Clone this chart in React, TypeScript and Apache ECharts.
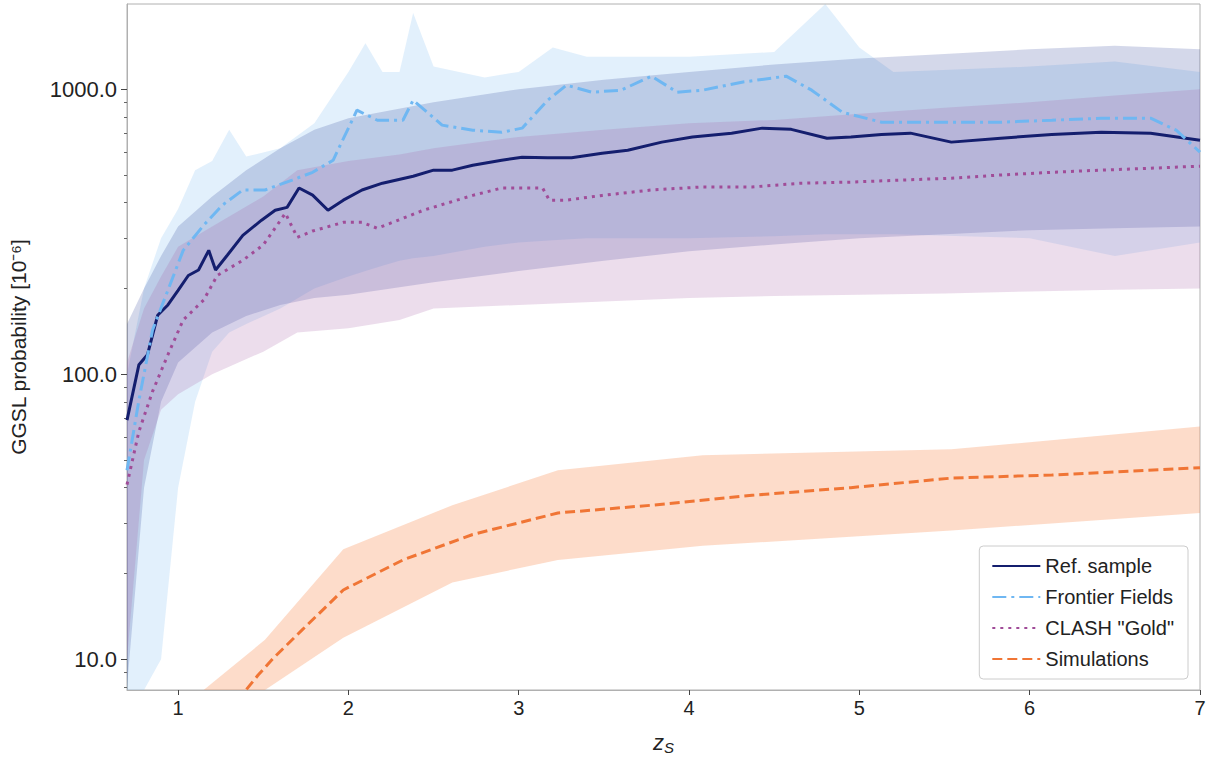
import { useEffect, useRef } from 'react';
import * as echarts from 'echarts';

// Ref. sample
const refZ = [0.7, 0.77, 0.82, 0.88, 0.94, 1.0, 1.06, 1.12, 1.18, 1.22, 1.29, 1.38, 1.49, 1.57, 1.64, 1.71, 1.79, 1.88, 1.97, 2.08, 2.2, 2.38, 2.5, 2.61, 2.73, 2.9, 3.02, 3.17, 3.31, 3.49, 3.64, 3.84, 4.02, 4.25, 4.43, 4.6, 4.81, 4.95, 5.13, 5.3, 5.54, 5.83, 6.13, 6.42, 6.71, 7.0];
const refMid = [69, 108, 117, 161, 175, 197, 222, 232, 272, 232, 262, 307, 347, 376, 385, 450, 425, 376, 408, 443, 468, 495, 520, 520, 541, 563, 577, 575, 575, 596, 611, 652, 680, 701, 730, 723, 673, 680, 693, 701, 652, 673, 693, 706, 701, 662];
const refBandZ = [0.7, 0.8, 0.9, 1.0, 1.2, 1.4, 1.6, 1.8, 2.0, 2.5, 3.0, 3.5, 4.0, 4.5, 5.0, 5.5, 6.0, 6.5, 7.0];
const refHi = [150, 200, 260, 330, 420, 520, 620, 720, 790, 900, 1000, 1080, 1150, 1220, 1280, 1330, 1380, 1420, 1380];
const refLo = [8, 40, 80, 110, 140, 160, 175, 185, 190, 210, 230, 250, 270, 285, 300, 310, 320, 325, 330];

// Frontier Fields
const ffZ = [0.7, 0.77, 0.85, 0.94, 1.03, 1.15, 1.26, 1.38, 1.51, 1.67, 1.79, 1.91, 2.05, 2.17, 2.32, 2.38, 2.55, 2.73, 2.9, 3.02, 3.17, 3.28, 3.43, 3.6, 3.78, 3.93, 4.08, 4.31, 4.57, 4.72, 4.9, 5.13, 5.54, 5.83, 6.13, 6.42, 6.71, 6.86, 7.0];
const ffMid = [46, 81, 143, 197, 272, 333, 392, 443, 443, 480, 511, 563, 844, 778, 778, 915, 748, 718, 706, 730, 915, 1033, 976, 992, 1111, 976, 992, 1058, 1111, 992, 830, 766, 766, 766, 778, 791, 791, 718, 601];
const ffBandZ = [0.7, 0.8, 0.9, 1.0, 1.1, 1.2, 1.3, 1.4, 1.6, 1.8, 2.0, 2.1, 2.2, 2.3, 2.38, 2.5, 2.8, 3.0, 3.2, 3.4, 3.6, 4.0, 4.5, 4.8, 5.0, 5.2, 6.0, 6.5, 7.0];
const ffHi = [100, 200, 300, 380, 520, 560, 720, 580, 620, 760, 1150, 1450, 1150, 1150, 1850, 1200, 1100, 1150, 1400, 1300, 1300, 1300, 1350, 2000, 1400, 1150, 1200, 1250, 1150];
const ffLo = [3, 5, 10, 40, 80, 120, 140, 150, 170, 200, 220, 230, 240, 250, 255, 260, 280, 290, 295, 300, 300, 300, 305, 310, 310, 310, 300, 260, 290];

// CLASH "Gold"
const clZ = [0.7, 0.77, 0.85, 0.94, 1.03, 1.15, 1.23, 1.38, 1.5, 1.63, 1.7, 1.79, 1.97, 2.08, 2.17, 2.44, 2.73, 2.9, 3.14, 3.18, 3.28, 3.49, 3.78, 4.08, 4.37, 4.66, 4.95, 5.25, 5.54, 5.83, 6.13, 6.42, 6.71, 7.0];
const clMid = [41, 63, 87, 117, 155, 182, 222, 251, 284, 367, 302, 318, 341, 341, 325, 376, 424, 450, 450, 408, 408, 424, 443, 454, 454, 468, 472, 480, 487, 500, 511, 520, 528, 537];
const clBandZ = [0.7, 0.8, 0.9, 1.0, 1.2, 1.5, 1.7, 2.0, 2.3, 2.5, 3.0, 3.5, 4.0, 4.5, 5.0, 5.5, 6.0, 6.5, 7.0];
const clHi = [110, 170, 220, 280, 330, 420, 520, 560, 590, 620, 680, 720, 760, 780, 820, 860, 900, 950, 1000];
const clLo = [10, 50, 75, 85, 100, 120, 140, 145, 155, 170, 175, 180, 185, 188, 190, 192, 195, 198, 200];

// Simulations
const simZ = [1.29, 1.47, 1.56, 1.73, 1.97, 2.32, 2.73, 3.23, 3.78, 4.37, 4.95, 5.54, 6.13, 7.0];
const simMid = [6.5, 8.8, 10.1, 12.7, 17.5, 22.3, 27.4, 32.6, 34.7, 37.6, 40, 43.2, 44.3, 47];
const simBandZ = [1.15, 1.51, 1.97, 2.61, 3.23, 4.08, 5.54, 7.0];
const simHi = [7.8, 11.7, 24.3, 34.7, 46, 52, 54.5, 65.6];
const simLo = [5, 6.5, 11.9, 18.6, 22.3, 25, 28.3, 32.6];

const yMin = Math.log10(7.8);
const yMax = Math.log10(1990);
const xTicks = [1, 2, 3, 4, 5, 6, 7];
const yTicks = [10, 100, 1000];
const yMinor = [8, 9, 20, 30, 40, 50, 60, 70, 80, 90, 200, 300, 400, 500, 600, 700, 800, 900];

const FONT = 'Liberation Sans, Arial, sans-serif';
const lg = (v: number) => Math.log10(v);
const clampY = (v: number) => Math.min(yMax, Math.max(yMin, lg(v)));

function band(name: string, z: number[], lo: number[], hi: number[], color: string) {
  return {
    type: 'custom',
    name,
    silent: true,
    clip: true,
    data: [[z[0], clampY(lo[0])]],
    z: 1,
    renderItem: (_p: unknown, api: any) => {
      const pts: number[][] = [];
      z.forEach((x, i) => pts.push(api.coord([x, clampY(hi[i])])));
      for (let i = z.length - 1; i >= 0; i--) pts.push(api.coord([z[i], clampY(lo[i])]));
      return { type: 'polygon', shape: { points: pts }, style: { fill: color } };
    },
  };
}

function line(name: string, z: number[], v: number[], color: string, type: any, width: number) {
  return {
    type: 'line',
    name,
    data: z.map((x, i) => [x, lg(v[i])]),
    symbol: 'none',
    z: 5,
    lineStyle: { color, width, type },
    itemStyle: { color },
  };
}

export default function App() {
  const ref = useRef<HTMLDivElement | null>(null);

  useEffect(() => {
    document.body.style.margin = '0';
    const chart = echarts.init(ref.current!, undefined, { renderer: 'svg' });
    chart.setOption({
      animation: false,
      grid: { left: 122, right: 15, top: 4, bottom: 73, show: true, borderColor: '#b0b0b0', borderWidth: 1 },
      legend: {
        right: 27,
        bottom: 84,
        orient: 'vertical',
        data: ['Ref. sample', 'Frontier Fields', 'CLASH "Gold"', 'Simulations'],
        itemWidth: 48,
        itemHeight: 14,
        itemGap: 11,
        itemStyle: { opacity: 0 },
        padding: [10, 14, 10, 12],
        borderColor: '#cccccc',
        borderWidth: 1,
        borderRadius: 4,
        backgroundColor: 'rgba(255,255,255,0.85)',
        textStyle: { fontFamily: FONT, fontSize: 20, color: '#222' },
      },
      xAxis: {
        type: 'value',
        min: 0.7,
        max: 7,
        name: '{i|z}{s|S}',
        nameLocation: 'middle',
        nameGap: 40,
        nameTextStyle: {
          rich: {
            i: { fontFamily: FONT, fontStyle: 'italic', fontSize: 22, color: '#222' },
            s: { fontFamily: FONT, fontStyle: 'italic', fontSize: 15, color: '#222', verticalAlign: 'bottom', padding: [10, 0, 0, 0] },
          },
        },
        axisLine: { lineStyle: { color: '#b0b0b0' } },
        axisTick: { show: true, customValues: xTicks, length: 5, lineStyle: { color: '#444' } },
        axisLabel: { customValues: xTicks, fontFamily: FONT, fontSize: 20, color: '#222', margin: 8 },
        splitLine: { show: false },
      },
      yAxis: [
        {
          type: 'value',
          min: yMin,
          max: yMax,
          name: 'GGSL probability [10⁻⁶]',
          nameLocation: 'middle',
          nameGap: 98,
          nameTextStyle: { fontFamily: FONT, fontSize: 21, color: '#222' },
          axisLine: { show: true, lineStyle: { color: '#b0b0b0' } },
          axisTick: { show: true, customValues: yTicks.map(lg), length: 6, lineStyle: { color: '#444' } },
          axisLabel: {
            customValues: yTicks.map(lg),
            formatter: (v: number) => Math.pow(10, Math.round(v)).toFixed(1),
            fontFamily: FONT,
            fontSize: 22,
            color: '#222',
            margin: 10,
          },
          splitLine: { show: false },
        },
        {
          type: 'value',
          min: yMin,
          max: yMax,
          position: 'left',
          axisLine: { show: false },
          axisTick: { show: true, customValues: yMinor.map(lg), length: 3, lineStyle: { color: '#666' } },
          axisLabel: { show: false },
          splitLine: { show: false },
        },
      ],
      series: [
        band('ffBand', ffBandZ, ffLo, ffHi, 'rgba(140,195,245,0.25)'),
        band('refBand', refBandZ, refLo, refHi, 'rgba(40,60,150,0.2)'),
        band('clBand', clBandZ, clLo, clHi, 'rgba(170,100,170,0.22)'),
        band('simBand', simBandZ, simLo, simHi, 'rgba(247,140,80,0.3)'),
        line('Ref. sample', refZ, refMid, '#141e6e', 'solid', 3),
        line('Frontier Fields', ffZ, ffMid, '#6fb7f2', [14, 5, 3, 5], 3),
        line('CLASH "Gold"', clZ, clMid, '#a04c98', [3, 5], 3),
        line('Simulations', simZ, simMid, '#f07535', [10, 5], 3),
      ],
    });
    return () => chart.dispose();
  }, []);

  return <div ref={ref} style={{ width: 1215, height: 763 }} />;
}
